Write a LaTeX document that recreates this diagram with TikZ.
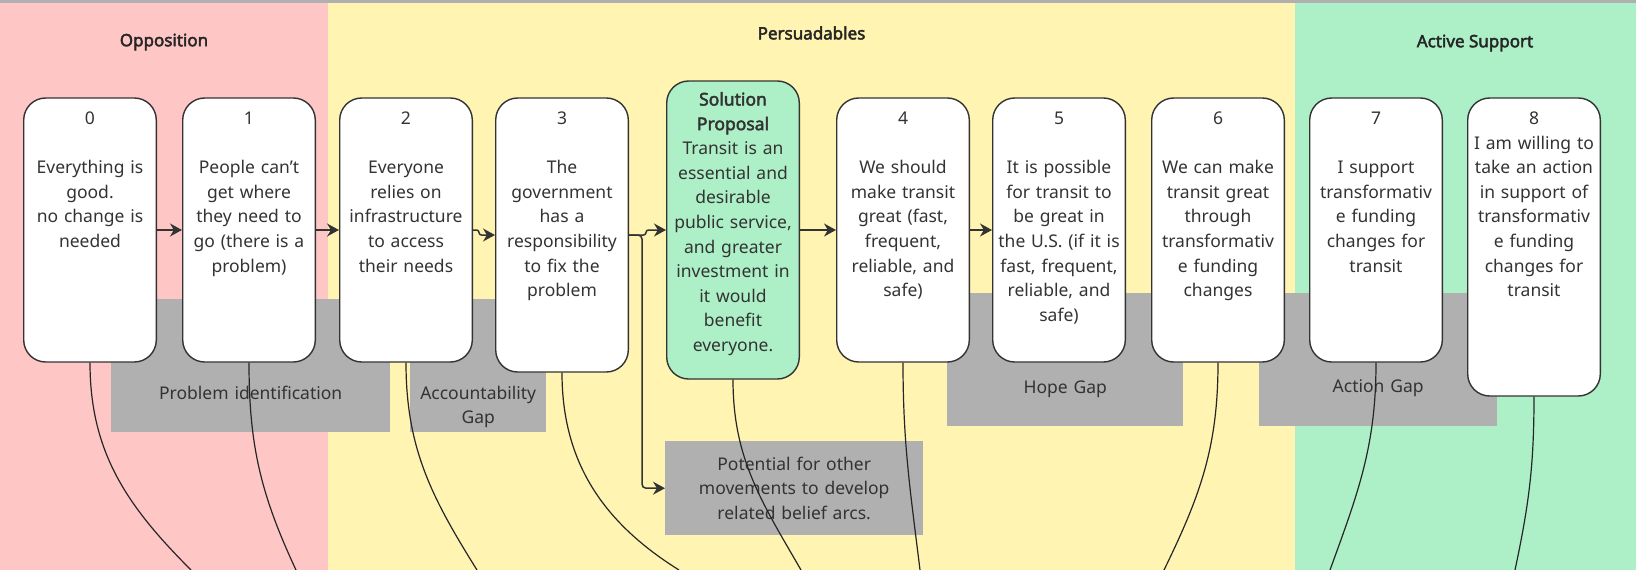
\documentclass[tikz,border=0pt]{standalone}
\usepackage{fontspec}
\setmainfont{Noto Sans}[BoldFont={Noto Sans},BoldFeatures={FakeBold=2.6}]
\usepackage{tikz}
\usetikzlibrary{arrows.meta,positioning,calc}
\definecolor{opprose}{RGB}{255,198,198}
\definecolor{persyellow}{RGB}{255,244,178}
\definecolor{suppgreen}{RGB}{173,240,199}
\definecolor{gapgray}{RGB}{176,176,176}
\definecolor{ink}{RGB}{51,51,51}

\begin{document}
\begin{tikzpicture}[x=1pt,y=-1pt,
zone/.style={anchor=north west,inner sep=0,outer sep=0,minimum height=570pt},
heading/.style={font=\fontsize{17}{20}\selectfont\bfseries,text=black!85},
belief/.style={draw=ink,line width=1.4pt,rounded corners=22pt,fill=white,text=ink,align=center,text width=132.6pt,minimum width=132.6pt,inner xsep=0,inner ysep=0,text height=26.5pt,text depth=237.5pt,font=\fontsize{17.5}{24.6}\selectfont},
proposal/.style={belief,fill=suppgreen,text height=24.5pt,text depth=273.5pt},
gap/.style={fill=gapgray,text=ink,align=center,inner sep=0,anchor=north west,font=\fontsize{17.5}{24.6}\selectfont},
arr/.style={-{Stealth[length=12pt,width=13pt]},line width=1.5pt,draw=ink},
thread/.style={line width=1.2pt,draw=black!85}
]
\useasboundingbox (0,0) rectangle (1636,570);
\clip (0,0) rectangle (1636,570);

% audience zones
\node[zone,fill=opprose,minimum width=328pt] (opp) at (0,0) {};
\node[zone,fill=persyellow,minimum width=967pt] (pers) at (328,0) {};
\node[zone,fill=suppgreen,minimum width=341pt] (supp) at (1295,0) {};
\fill[gapgray] (0,0) rectangle (1636,3);

\node[heading] (titopp) at ($(opp.north)+(0,42)$) {Opposition};
\node[heading] (titpers) at ($(pers.north)+(0,33)$) {Persuadables};
\node[heading] (titsupp) at ($(supp.north)+(9.5,43)$) {Active Support};

% gaps
\node[gap,text width=279pt,text height=100pt,text depth=33pt] (probid) at (111,299) {Problem identification};
\node[gap,text width=136pt,text height=100pt,text depth=33pt] (accgap) at (410,299) {Accountability\\Gap};
\node[gap,text width=236pt,text height=100.5pt,text depth=32.5pt] (hopegap) at (947,293) {Hope Gap};
\node[gap,text width=238pt,text height=99.5pt,text depth=33.5pt] (actgap) at (1259,293) {Action Gap};
\node[gap,text width=258pt,minimum height=94pt] (potential) at (665,441) {Potential for other\\movements to develop\\related belief arcs.};

% belief arc
\node[belief] (n0) at (90,230) {0\\[\baselineskip]Everything is\\good.\\no change is\\needed};
\node[belief,right=25pt of n0] (n1) {1\\[\baselineskip]People can't\\get where\\they need to\\go (there is a\\problem)};
\node[belief,right=23pt of n1] (n2) {2\\[\baselineskip]Everyone\\relies on\\infrastructure\\to access\\their needs};
\node[belief,right=22pt of n2,yshift=-5pt,text depth=247.5pt] (n3) {3\\[\baselineskip]The\\government\\has a\\responsibility\\to fix the\\problem};
\node[proposal,right=37pt of n3,yshift=5pt] (sol) {\textbf{Solution}\\\textbf{Proposal}\\Transit is an\\essential and\\desirable\\public service,\\and greater\\investment in\\it would\\benefit\\everyone.};
\node[belief,right=36pt of sol] (n4) {4\\[\baselineskip]We should\\make transit\\great (fast,\\frequent,\\reliable, and\\safe)};
\node[belief,right=22pt of n4] (n5) {5\\[\baselineskip]It is possible\\for transit to\\be great in\\the U.S. (if it is\\fast, frequent,\\reliable, and\\safe)};
\node[belief,right=25pt of n5] (n6) {6\\[\baselineskip]We can make\\transit great\\through\\transformativ\\e funding\\changes};
\node[belief,right=24pt of n6] (n7) {7\\[\baselineskip]I support\\transformativ\\e funding\\changes for\\transit};
\node[belief,right=24pt of n7,yshift=-17pt,text depth=271.5pt] (n8) {8\\I am willing to\\take an action\\in support of\\transformativ\\e funding\\changes for\\transit};

% threads leaving the picture
\coordinate (tail-n0) at (191,570);
\coordinate (tail-n1) at (296,570);
\coordinate (tail-n2) at (477,570);
\coordinate (tail-n3) at (679,570);
\coordinate (tail-sol) at (801,570);
\coordinate (tail-n4) at (920,570);
\coordinate (tail-n6) at (1164,570);
\coordinate (tail-n7) at (1330,570);
\coordinate (tail-n8) at (1515,570);
\foreach \n/\a in {n0/135,n1/115,n2/122,n3/148,sol/120,n4/97,n6/64,n7/70,n8/78}
  \draw[thread] (\n.south) to[out=-90,in=\a] (tail-\n);

\draw[arr] (n0.east) -- (n1.west);
\draw[arr] (n1.east) -- (n2.west);
\draw[arr,rounded corners=2.5pt] (n2.east) -- ++(6,0) |- (n3.west);
\draw[arr,rounded corners=4pt] (n3.east) -- ++(13,0) |- (potential.west);
\draw[arr,rounded corners=2.5pt] (n3.east) -- ++(17,0) |- (sol.west);
\draw[arr] (sol.east) -- (n4.west);
\draw[arr] (n4.east) -- (n5.west);
\end{tikzpicture}
\end{document}
